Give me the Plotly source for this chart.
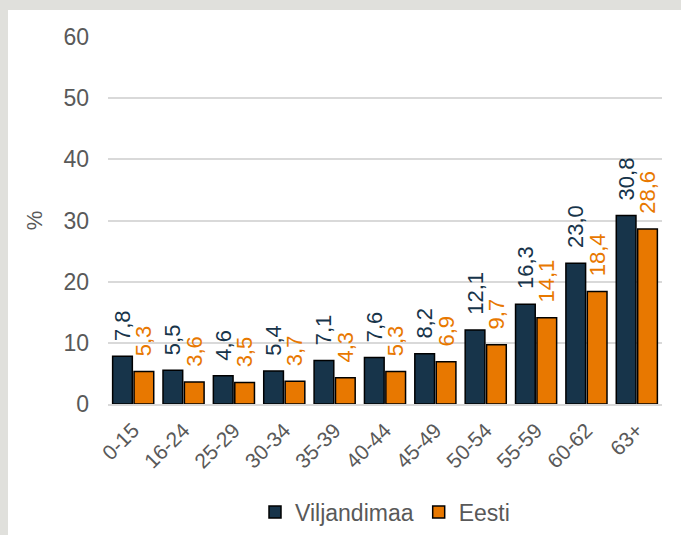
import plotly.graph_objects as go

categories = ["0-15", "16-24", "25-29", "30-34", "35-39", "40-44", "45-49", "50-54", "55-59", "60-62", "63+"]
viljandimaa = [7.8, 5.5, 4.6, 5.4, 7.1, 7.6, 8.2, 12.1, 16.3, 23.0, 30.8]
eesti = [5.3, 3.6, 3.5, 3.7, 4.3, 5.3, 6.9, 9.7, 14.1, 18.4, 28.6]
y_ticks = [0, 10, 20, 30, 40, 50, 60]

navy = "#17344a"
orange = "#e87800"
FONT = "Liberation Sans, Arial"

def fmt(v):
    # leading non-breaking spaces give the gap between bar top and rotated label
    return "\u00a0\u00a0" + f"{v:.1f}".replace(".", ",")

fig = go.Figure()
fig.add_trace(go.Bar(
    name="Viljandimaa", x=categories, y=viljandimaa,
    marker=dict(color=navy, line=dict(color="#000000", width=1.5)),
    text=[fmt(v) for v in viljandimaa], textposition="outside", textangle=-90,
    constraintext="none",
    textfont=dict(color=navy, size=22, family=FONT),
    cliponaxis=False,
))
fig.add_trace(go.Bar(
    name="Eesti", x=categories, y=eesti,
    marker=dict(color=orange, line=dict(color="#000000", width=1.5)),
    text=[fmt(v) for v in eesti], textposition="outside", textangle=-90,
    constraintext="none",
    textfont=dict(color=orange, size=22, family=FONT),
    cliponaxis=False,
))

W, H = 681, 535
l, r, t, b = 108, 19, 37, 131
pw, ph = W - l - r, H - t - b

fig.add_shape(type="rect", xref="paper", yref="paper",
              x0=(8 - l) / pw, x1=1.3,
              y0=-0.6, y1=(H - b - 10) / ph,
              fillcolor="white", line=dict(width=0), layer="below")

fig.update_layout(
    width=W, height=H,
    margin=dict(l=l, r=r, t=t, b=b, autoexpand=False),
    paper_bgcolor="#e0e0dc",
    plot_bgcolor="rgba(0,0,0,0)",
    barmode="group", bargap=0.15, bargroupgap=0.08,
    font=dict(family=FONT, color="#595959", size=23),
    showlegend=True,
    legend=dict(orientation="h", x=0.5, xanchor="center", y=(404 - 512) / ph, yanchor="middle",
                font=dict(size=23, color="#595959"), bgcolor="rgba(0,0,0,0)",
                itemwidth=30, traceorder="normal"),
)
fig.update_yaxes(
    range=[0, 60], tickvals=y_ticks, showgrid=True, gridcolor="#d9d9d9", gridwidth=1.5,
    zeroline=False, showline=False, ticklabelstandoff=18, automargin=False,
    tickfont=dict(size=23, color="#595959"),
    title=dict(text="%", font=dict(size=22, color="#595959"), standoff=14),
)
fig.update_xaxes(
    tickangle=-45, showline=True, linecolor="#d9d9d9", linewidth=1.5, automargin=False,
    tickfont=dict(size=21, color="#595959"), ticks="", ticklabelstandoff=4,
)

fig.write_html("out.html", config={"displayModeBar": False},
               post_script="document.body.style.margin='0px';document.body.style.overflow='hidden';")
